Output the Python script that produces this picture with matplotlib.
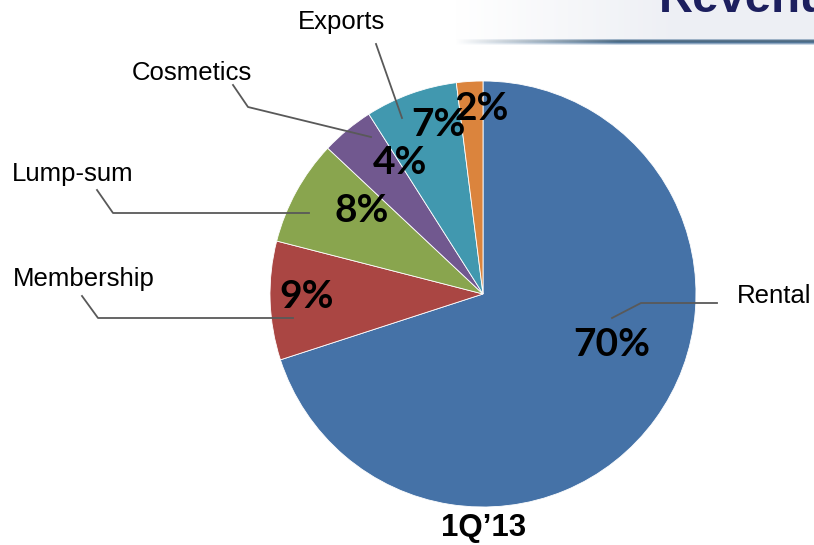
import numpy as np
import matplotlib
matplotlib.use('Agg')
import matplotlib.pyplot as plt

W, H = 814, 545

categories = ['Rental', 'Membership', 'Lump-sum', 'Cosmetics', 'Exports', '']
shares = [70, 9, 8, 4, 7, 2]
colors = ['#4572A7', '#AA4643', '#89A54E', '#71588F', '#4198AF', '#DB843D']

# where the % text sits inside each wedge (pixels, y down)
pct_pos = [(612, 345), (307, 296), (362, 211), (400, 163), (438, 125), (482, 108)]
# category text and leader polylines (pixels, y down)
cat_pos = [(737, 296, 'left'), (84, 279, 'center'), (73, 174, 'center'),
           (192, 73, 'center'), (341, 22, 'center'), None]
leaders = [
    [(612, 318), (641, 303), (717, 303)],
    [(82, 296), (98, 318), (293, 318)],
    [(97, 190), (113, 213), (309, 213)],
    [(233, 85), (248, 107), (371, 137)],
    [(376, 44), (402, 118)],
    None,
]


def fy(y):
    return H - y


fig = plt.figure(figsize=(W / 100, H / 100), dpi=100)
ax = fig.add_axes([0, 0, 1, 1])

# slide header band in the top right
band = np.ones((40, 360, 4))
fade = np.clip(np.linspace(0, 1.6, 360), 0, 1)
band[:, :, 0] = 0.93
band[:, :, 1] = 0.94
band[:, :, 2] = 0.96
band[:, :, 3] = fade[None, :]
ax.imshow(band, extent=(455, 814, fy(40), fy(0)), aspect='auto', zorder=0)

bar = np.ones((6, 360, 4))
bar_fade = np.clip(np.linspace(0, 2.2, 360), 0, 1)
rows = np.array([[0.62, 0.70, 0.78], [0.36, 0.46, 0.55], [0.30, 0.42, 0.52],
                 [0.33, 0.47, 0.60], [0.55, 0.65, 0.75], [0.80, 0.85, 0.90]])
bar[:, :, :3] = rows[:, None, :]
bar[:, :, 3] = bar_fade[None, :]
ax.imshow(bar, extent=(455, 814, fy(45), fy(39)), aspect='auto', zorder=0)

ax.text(659, fy(12), 'Revenue', fontsize=34, fontweight='bold', color='#1c1f5e',
        family='Liberation Sans', ha='left', va='baseline', zorder=1)

ax.pie(shares, colors=colors, startangle=90, counterclock=False,
       center=(483, fy(294)), radius=213,
       wedgeprops=dict(edgecolor='white', linewidth=0.6))

for i, v in enumerate(shares):
    x, y = pct_pos[i]
    ax.text(x, fy(y), f'{v}%', fontsize=28, fontweight='bold', family='Lato',
            ha='center', va='center', color='black', zorder=5)
    if leaders[i] is not None:
        xs = [p[0] for p in leaders[i]]
        ys = [fy(p[1]) for p in leaders[i]]
        ax.plot(xs, ys, color='#595959', lw=1.3, zorder=4)
    if cat_pos[i] is not None:
        cx, cy, ha = cat_pos[i]
        ax.text(cx, fy(cy), categories[i], fontsize=18.5, family='Liberation Sans',
                ha=ha, va='center', color='black')

ax.text(484, fy(528), '1Q\u201913', fontsize=22.5, fontweight='bold',
        family='Liberation Sans', ha='center', va='center')

ax.set_xlim(0, W)
ax.set_ylim(0, H)
ax.set_aspect('auto')
ax.axis('off')

fig.savefig('out.png', dpi=100)
